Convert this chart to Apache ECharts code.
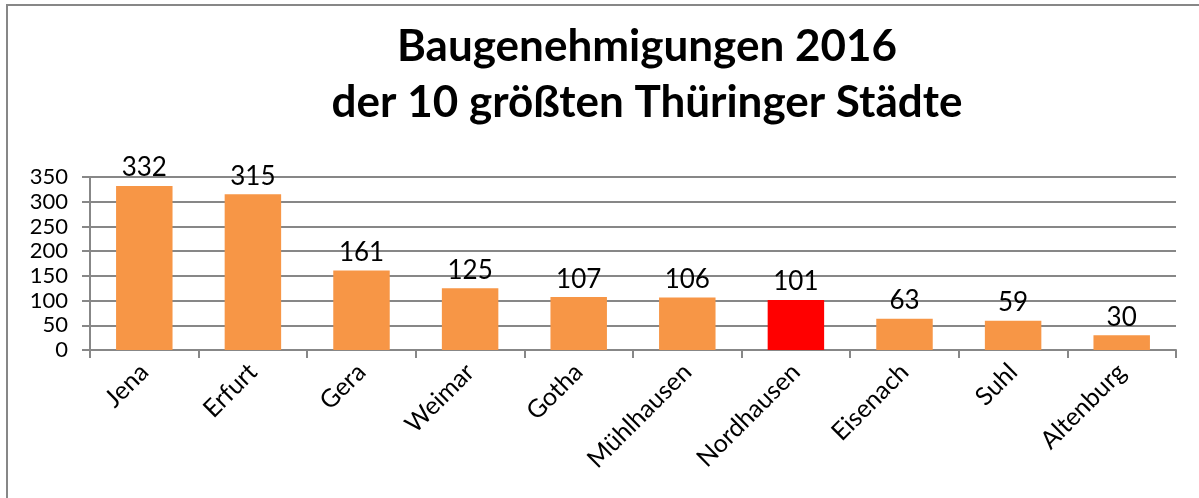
<!DOCTYPE html>
<html>
<head>
<meta charset="utf-8">
<script src="https://cdn.jsdelivr.net/npm/echarts@6/dist/echarts.min.js"></script>
<style>
html,body{margin:0;padding:0;background:#fff;}
#c{width:1199px;height:498px;}
</style>
</head>
<body>
<div id="c"></div>
<script>
const categories = ['Jena','Erfurt','Gera','Weimar','Gotha','Mühlhausen','Nordhausen','Eisenach','Suhl','Altenburg'];
const values = [332, 315, 161, 125, 107, 106, 101, 63, 59, 30];
const highlight = 'Nordhausen';
const titleText = 'Baugenehmigungen 2016\nder 10 größten Thüringer Städte';

const FONT = 'Lato, "Open Sans", sans-serif';
const chart = echarts.init(document.getElementById('c'), null, {renderer:'canvas'});
chart.setOption({
  animation:false,
  backgroundColor:'#fff',
  title:{
    text:titleText,
    left:642, top:14, textAlign:'center',
    textStyle:{fontFamily:FONT, fontWeight:'bold', fontSize:44, color:'#000', lineHeight:56}
  },
  graphic:[{
    type:'rect', shape:{x:7, y:5, width:1400, height:700},
    style:{fill:'none', stroke:'#878787', lineWidth:2}, silent:true, z:-1
  }],
  grid:{left:90, right:23, top:177, bottom:148, containLabel:false},
  xAxis:{
    type:'category', data:categories,
    axisLine:{lineStyle:{color:'#878787', width:2}},
    axisTick:{show:true, length:8, lineStyle:{color:'#878787', width:2}},
    axisLabel:{rotate:45, fontFamily:FONT, fontSize:25, color:'#000', margin:18, interval:0}
  },
  yAxis:{
    type:'value', min:0, max:350, interval:50,
    axisLine:{show:true, lineStyle:{color:'#878787', width:2}},
    axisTick:{show:true, length:8, lineStyle:{color:'#878787', width:2}},
    splitLine:{lineStyle:{color:'#878787', width:2}},
    axisLabel:{fontFamily:FONT, fontSize:22, color:'#000', margin:22,
               showMinLabel:true, showMaxLabel:true}
  },
  series:[{
    type:'bar',
    data:values.map((v,i)=>({value:v, itemStyle:{color: categories[i]===highlight ? '#FF0000' : '#F79646'}})),
    barWidth:'52%',
    label:{show:true, position:'top', distance:5, fontFamily:FONT, fontSize:26, color:'#000'}
  }]
});
</script>
</body>
</html>
